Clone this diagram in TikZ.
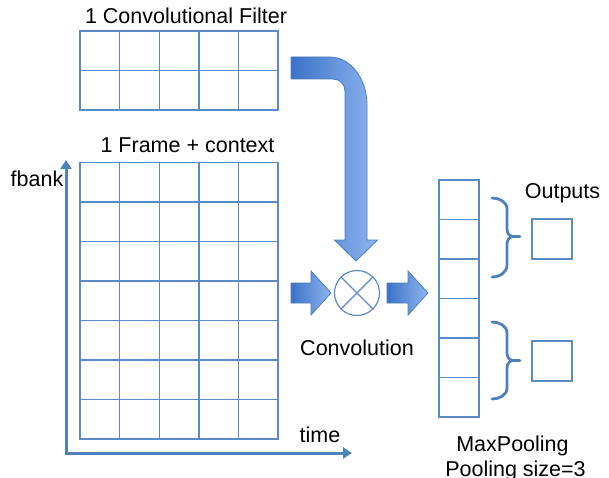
\documentclass[tikz,border=0pt]{standalone}
\usepackage{fontspec}
\setmainfont{Liberation Sans}
\usetikzlibrary{arrows.meta}
\definecolor{gridblue}{HTML}{5B8AC8}
\definecolor{axisblue}{HTML}{4F81BD}
\definecolor{arrowdark}{HTML}{3C72C8}
\definecolor{arrowlight}{HTML}{8EB5F0}
\definecolor{arrowline}{HTML}{4A7EBB}
\begin{document}
\begin{tikzpicture}[x=1pt,y=-1pt,
  cell/.style={minimum width=39.6pt, minimum height=39.5pt,
    inner sep=0pt, outer sep=0pt, anchor=north west},
  poolcell/.style={cell, minimum width=40pt},
  gridline/.style={draw=gridblue, line width=1.4pt, line cap=rect},
  outbox/.style={draw=gridblue, line width=1.4pt, minimum size=40pt, inner sep=0pt,
    outer sep=0pt, anchor=north west},
  txt/.style={font=\fontsize{21.5}{25}\selectfont, inner sep=0pt, anchor=base},
  axis/.style={draw=axisblue, line width=3pt, -{Triangle[length=9pt,width=11pt]}},
  blockarrow/.style={draw=arrowline, line width=0.8pt, left color=arrowdark, right color=arrowlight},
  bracestyle/.style={draw=axisblue, line width=2.8pt, line cap=round}]

\useasboundingbox (0,0) rectangle (609,478);

% convolutional filter: 5 x 2 cells
\foreach \i in {0,...,4}{
  \foreach \j in {0,1}{
    \node[cell] (filt-\i-\j) at ({80+39.6*\i},{31+39.5*\j}) {};
  }
}
\foreach \i in {0,...,5}{\draw[gridline] ({80+39.6*\i},31) -- ({80+39.6*\i},110);}
\foreach \j in {0,...,2}{\draw[gridline] (80,{31+39.5*\j}) -- (278,{31+39.5*\j});}
\node[txt] (filtlabel) at (186,23.5) {1 Convolutional Filter};

% input frame with context: 5 x 7 cells
\foreach \i in {0,...,4}{
  \foreach \j in {0,...,6}{
    \node[cell] (frm-\i-\j) at ({80+39.6*\i},{162.5+39.5*\j}) {};
  }
}
\foreach \i in {0,...,5}{\draw[gridline] ({80+39.6*\i},162.5) -- ({80+39.6*\i},439);}
\foreach \j in {0,...,7}{\draw[gridline] (80,{162.5+39.5*\j}) -- (278,{162.5+39.5*\j});}
\node[txt] (frmlabel) at (187.5,152.5) {1 Frame + context};

% axes
\coordinate (origin) at (66,453);
\coordinate (ytop) at (66,160);
\coordinate (xend) at (352,453);
\draw[axis] ([yshift=-1.5pt]origin) -- (ytop);
\draw[axis] ([xshift=-1.5pt]origin) -- (xend);
\node[txt] (fbank) at (37,186.5) {fbank};
\node[txt] (time) at (320,442.5) {time};

% convolution operator
\node[draw=gridblue, line width=1.2pt, circle, minimum size=45pt, inner sep=0pt] (conv) at (357,293) {};
\draw[gridblue, line width=1.2pt] (conv.north west) -- (conv.south east);
\draw[gridblue, line width=1.2pt] (conv.north east) -- (conv.south west);
\node[txt] (convlabel) at (357,355) {Convolution};

% bent arrow bringing the filter down to the operator
\path[blockarrow] (291,57) -- (330,57) .. controls (350.4,57) and (367,78.5) .. (367,105)
  -- (367,240) -- (377.5,240) -- (356,261) -- (334.5,240) -- (345,240) -- (345,91)
  .. controls (345,84.4) and (339.6,79) .. (333,79) -- (291,79) -- cycle;

% block arrows into and out of the operator
\path[blockarrow] (291,283) -- (311,283) -- (311,271) -- (331,293) -- (311,315)
  -- (311,303) -- (291,303) -- cycle;
\path[blockarrow] (387,283) -- (408,283) -- (408,271) -- (428,293) -- (408,315)
  -- (408,303) -- (387,303) -- cycle;

% convolution outputs (pooling column)
\foreach \j in {0,...,5}{
  \node[poolcell] (pool-\j) at (439,{180+39.5*\j}) {};
}
\draw[gridline] (439,180) -- (439,417);
\draw[gridline] (479,180) -- (479,417);
\foreach \j in {0,...,6}{\draw[gridline] (439,{180+39.5*\j}) -- (479,{180+39.5*\j});}
\node[txt] (maxpool) at (512.5,451) {MaxPooling};
\node[txt] (poolsize) at (515.5,476) {Pooling size=3};

% braces grouping three cells each
\draw[bracestyle] (492,198) to[out=0,in=90] (507,209) -- (507,229)
  to[out=-90,in=180] (513,236.5) -- (520,236.5);
\draw[bracestyle] (513,236.5) to[out=180,in=90] (507,244) -- (507,265)
  to[out=-90,in=0] (492,277);
\draw[bracestyle] (492,322) to[out=0,in=90] (507,333) -- (507,353)
  to[out=-90,in=180] (513,360.5) -- (520,360.5);
\draw[bracestyle] (513,360.5) to[out=180,in=90] (507,368) -- (507,388)
  to[out=-90,in=0] (492,399);

% pooled outputs
\node[outbox] (out-1) at (532,219) {};
\node[outbox] (out-2) at (532,341) {};
\node[txt] (outlabel) at (562.5,198) {Outputs};

\end{tikzpicture}
\end{document}
